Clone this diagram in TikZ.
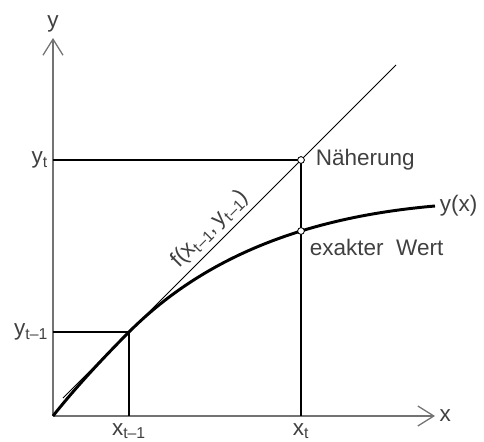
\documentclass[tikz,border=0pt]{standalone}
\usepackage{fontspec}
\setmainfont{Liberation Sans}
\usetikzlibrary{arrows.meta,positioning}

\begin{document}
\begin{tikzpicture}[x=1cm,y=1cm,font=\fontsize{16}{18}\selectfont,text=black!75,
  axis/.style={draw=black!55,line width=0.9pt,-{Straight Barb[length=4mm,width=5mm]}},
  guide/.style={draw,line width=0.9pt},
  tangent/.style={draw,line width=0.6pt},
  curve/.style={draw,line width=2.1pt},
  ptcircle/.style={draw,circle,fill=white,line width=0.6pt,minimum size=0.17cm,inner sep=0pt}]
\useasboundingbox (-1.325,-0.625) rectangle (10.775,10.4);
% points
\coordinate (O) at (0,0);
\coordinate (xend) at (9.55,0);
\coordinate (yend) at (0,9.45);
\coordinate (A) at (1.9,2.1);
\coordinate (Ax) at (1.9,0);
\coordinate (Ay) at (0,2.1);
\coordinate (Cx) at (6.2,0);
\coordinate (Cy) at (0,6.4);
\coordinate (E) at (9.55,5.25);
\coordinate (tstart) at (0.25,0.45);
\coordinate (tend) at (8.575,8.775);
% axes
\draw[axis] (O) -- (xend);
\draw[axis] (O) -- (yend);
\node[anchor=west,inner sep=3pt] (xlab) at (xend) {x};
\node[anchor=south,inner sep=4pt] (ylab) at (yend) {y};
% tangent and guide lines
\draw[tangent] (tstart) -- (tend);
\draw[guide] (Ay) -- (A) -- (Ax);
\draw[guide] (Cy) -- (6.2,6.4) -- (Cx);
\draw[curve] (O) .. controls (0.55,0.7) and (1.3,1.5) .. (A) .. controls (3.9,4.1) and (6.55,4.99) .. (E);
\node[ptcircle] (pn) at (6.2,6.4) {};
\node[ptcircle] (pe) at (6.2,4.625) {};
% labels
\node[anchor=east] (ytlab) at (Cy) {y\textsubscript{t}};
\node[anchor=east] (ytmlab) at (Ay) {y\textsubscript{t--1}};
\node[anchor=north,inner sep=5pt] (xtmlab) at (Ax) {x\textsubscript{t--1}};
\node[anchor=north,inner sep=5pt] (xtlab) at (Cx) {x\textsubscript{t}};
\node[right=0.15cm of pn] (naeh) {Näherung};
\node[anchor=west] (exakt) at (6.3,4.225) {exakter\ \ Wert};
\node[anchor=west] (yxlab) at (E) {y(x)};
\node[rotate=45,anchor=south] (flab) at (4.2,4.4) {f(x\textsubscript{t--1},\,y\textsubscript{t--1})};
\end{tikzpicture}
\end{document}
